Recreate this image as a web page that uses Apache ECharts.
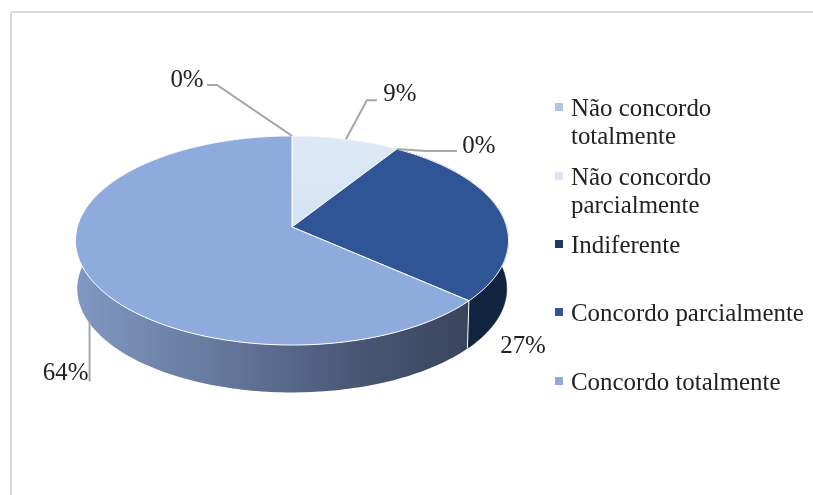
<!DOCTYPE html>
<html>
<head>
<meta charset="utf-8">
<style>html,body{margin:0;padding:0;background:#fff}#c{width:813px;height:495px}</style>
<script src="https://cdn.jsdelivr.net/npm/echarts@6/dist/echarts.min.js"></script>
</head>
<body>
<div id="c"></div>
<script>
const categories = ['Não concordo totalmente', 'Não concordo parcialmente', 'Indiferente', 'Concordo parcialmente', 'Concordo totalmente'];
const legendLabels = ['Não concordo\ntotalmente', 'Não concordo\nparcialmente', 'Indiferente', 'Concordo parcialmente', 'Concordo totalmente'];
const values = [0, 9.1, 0, 27.3, 63.6];
const colors = ['#B0C4E8', '#D6E6F8', '#1F3864', '#2F5597', '#8FAADC'];

// --- styling and layout, separate from the data ---
const FONT_SIZE = 24.9;
const FONT = FONT_SIZE + 'px "Liberation Serif", serif';
const P = {cx: 292, cy: 227, a: 214.7, b: 102.8, k: -0.129, depth: 48.5, inset: 0.992};
const wallFills = [null, null, '#12233F', '#12233F', null];
const legendCenters = [107, 176, 244, 312, 381];
const labelDefs = [
  {elbow: [[-75, -51], [-85, -51]], tx: -105, ty: -55},
  {elbow: [[21, -39], [31, -39]], tx: 54, ty: -45},
  {elbow: [[29, 2], [60, 2]], tx: 82, ty: -3},
  {elbow: null, fixed: [523, 346]},
  {elbow: [[0, 61]], tx: -24, ty: 52.5, shift: 4}
];

function project(theta, scale, drop) {
  const X = Math.sin(theta) * (scale || 1), Y = -Math.cos(theta) * (scale || 1);
  const d = 1 + P.k * Y;
  return [P.cx + P.a * X / d, P.cy + P.b * Y / d + (drop || 0)];
}
const total = values.reduce((s, v) => s + v, 0);
function startAngle(i) {
  let s = 0;
  for (let j = 0; j < i; j++) s += values[j];
  return s / total * Math.PI * 2;
}
function arc(t0, t1, scale, drop) {
  const pts = [], n = Math.max(2, Math.ceil((t1 - t0) / 0.02));
  for (let i = 0; i <= n; i++) pts.push(project(t0 + (t1 - t0) * i / n, scale, drop));
  return pts;
}
function wallGradient() {
  return new echarts.graphic.LinearGradient(76, 0, 469, 0, [
    {offset: 0, color: '#8298C2'},
    {offset: 0.35, color: '#66799E'},
    {offset: 0.7, color: '#4A5876'},
    {offset: 1, color: '#38455C'}
  ], true);
}

function renderSlice(i, api) {
  const v = api.value(0);
  const t0 = startAngle(i), t1 = t0 + v / total * Math.PI * 2, mid = (t0 + t1) / 2;
  const children = [];
  if (v > 0) {
    const top = arc(t0, t1);
    const bottom = arc(t0, t1, P.inset, P.depth).reverse();
    children.push({
      type: 'polygon', z2: 1,
      shape: {points: top.concat(bottom)},
      style: {fill: wallFills[i] || wallGradient(), stroke: wallFills[i] || null, lineWidth: wallFills[i] ? 0.5 : 0}
    });
    let fill = colors[i];
    if (i === 1) fill = new echarts.graphic.LinearGradient(0, 0, 0, 1, [
      {offset: 0, color: '#DDE9F6'}, {offset: 1, color: '#D3E3F4'}
    ]);
    children.push({
      type: 'polygon', z2: 5,
      shape: {points: [[P.cx, P.cy]].concat(top)},
      style: {fill: fill, stroke: '#FFFFFF', lineWidth: 1}
    });
    if (Math.cos(t1) < 0) {
      children.push({
        type: 'line', z2: 6,
        shape: {x1: top[top.length - 1][0], y1: top[top.length - 1][1], x2: bottom[0][0], y2: bottom[0][1]},
        style: {stroke: '#FFFFFF', lineWidth: 1}
      });
    }
  }
  // percentage label with its leader line
  const def = labelDefs[i];
  const base = project(mid, 1, i === 4 ? P.depth : 0);
  const anchor = [base[0] + (def.shift || 0), base[1]];
  const text = Math.round(v / total * 100) + '%';
  const tx = def.fixed ? def.fixed[0] : anchor[0] + def.tx;
  const ty = def.fixed ? def.fixed[1] : anchor[1] + def.ty;
  if (def.elbow) {
    const pts = [anchor].concat(def.elbow.map(e => [anchor[0] + e[0], anchor[1] + e[1]]));
    children.push({
      type: 'polyline', z2: 7,
      shape: {points: pts},
      style: {fill: null, stroke: '#A6A6A6', lineWidth: 2}
    });
  }
  children.push({
    type: 'text', z2: 8,
    style: {text: text, x: tx, y: ty, font: FONT, fill: '#222222', align: 'center', verticalAlign: 'middle'}
  });
  return {type: 'group', children: children};
}

function legendIcon(twoLine) {
  return twoLine ? 'path://M0 0H8V8H0Z M11 40L11 40' : 'path://M0 0H8V8H0Z M11 12L11 12';
}

const chart = echarts.init(document.getElementById('c'), null, {renderer: 'canvas'});
chart.setOption({
  animation: false,
  backgroundColor: '#FFFFFF',
  graphic: [
    {type: 'line', shape: {x1: 11, y1: 12, x2: 813, y2: 12}, style: {stroke: '#D9D9D9', lineWidth: 2}},
    {type: 'line', shape: {x1: 11, y1: 12, x2: 11, y2: 495}, style: {stroke: '#D9D9D9', lineWidth: 2}}
  ],
  legend: categories.map((name, i) => {
    const two = legendLabels[i].indexOf('\n') >= 0;
    return {
      data: [{name: name, icon: legendIcon(two)}],
      left: 555,
      top: legendCenters[i] - 12,
      orient: 'vertical',
      padding: 0,
      itemWidth: 11,
      itemHeight: two ? 40 : 12,
      selectedMode: false,
      formatter: () => legendLabels[i],
      textStyle: {fontFamily: '"Liberation Serif", serif', fontSize: FONT_SIZE, lineHeight: 28, color: '#222222'}
    };
  }),
  series: categories.map((name, i) => ({
    type: 'custom',
    name: name,
    coordinateSystem: 'none',
    silent: true,
    itemStyle: {color: colors[i]},
    data: [values[i]],
    renderItem: (params, api) => renderSlice(i, api)
  }))
});
</script>
</body>
</html>
